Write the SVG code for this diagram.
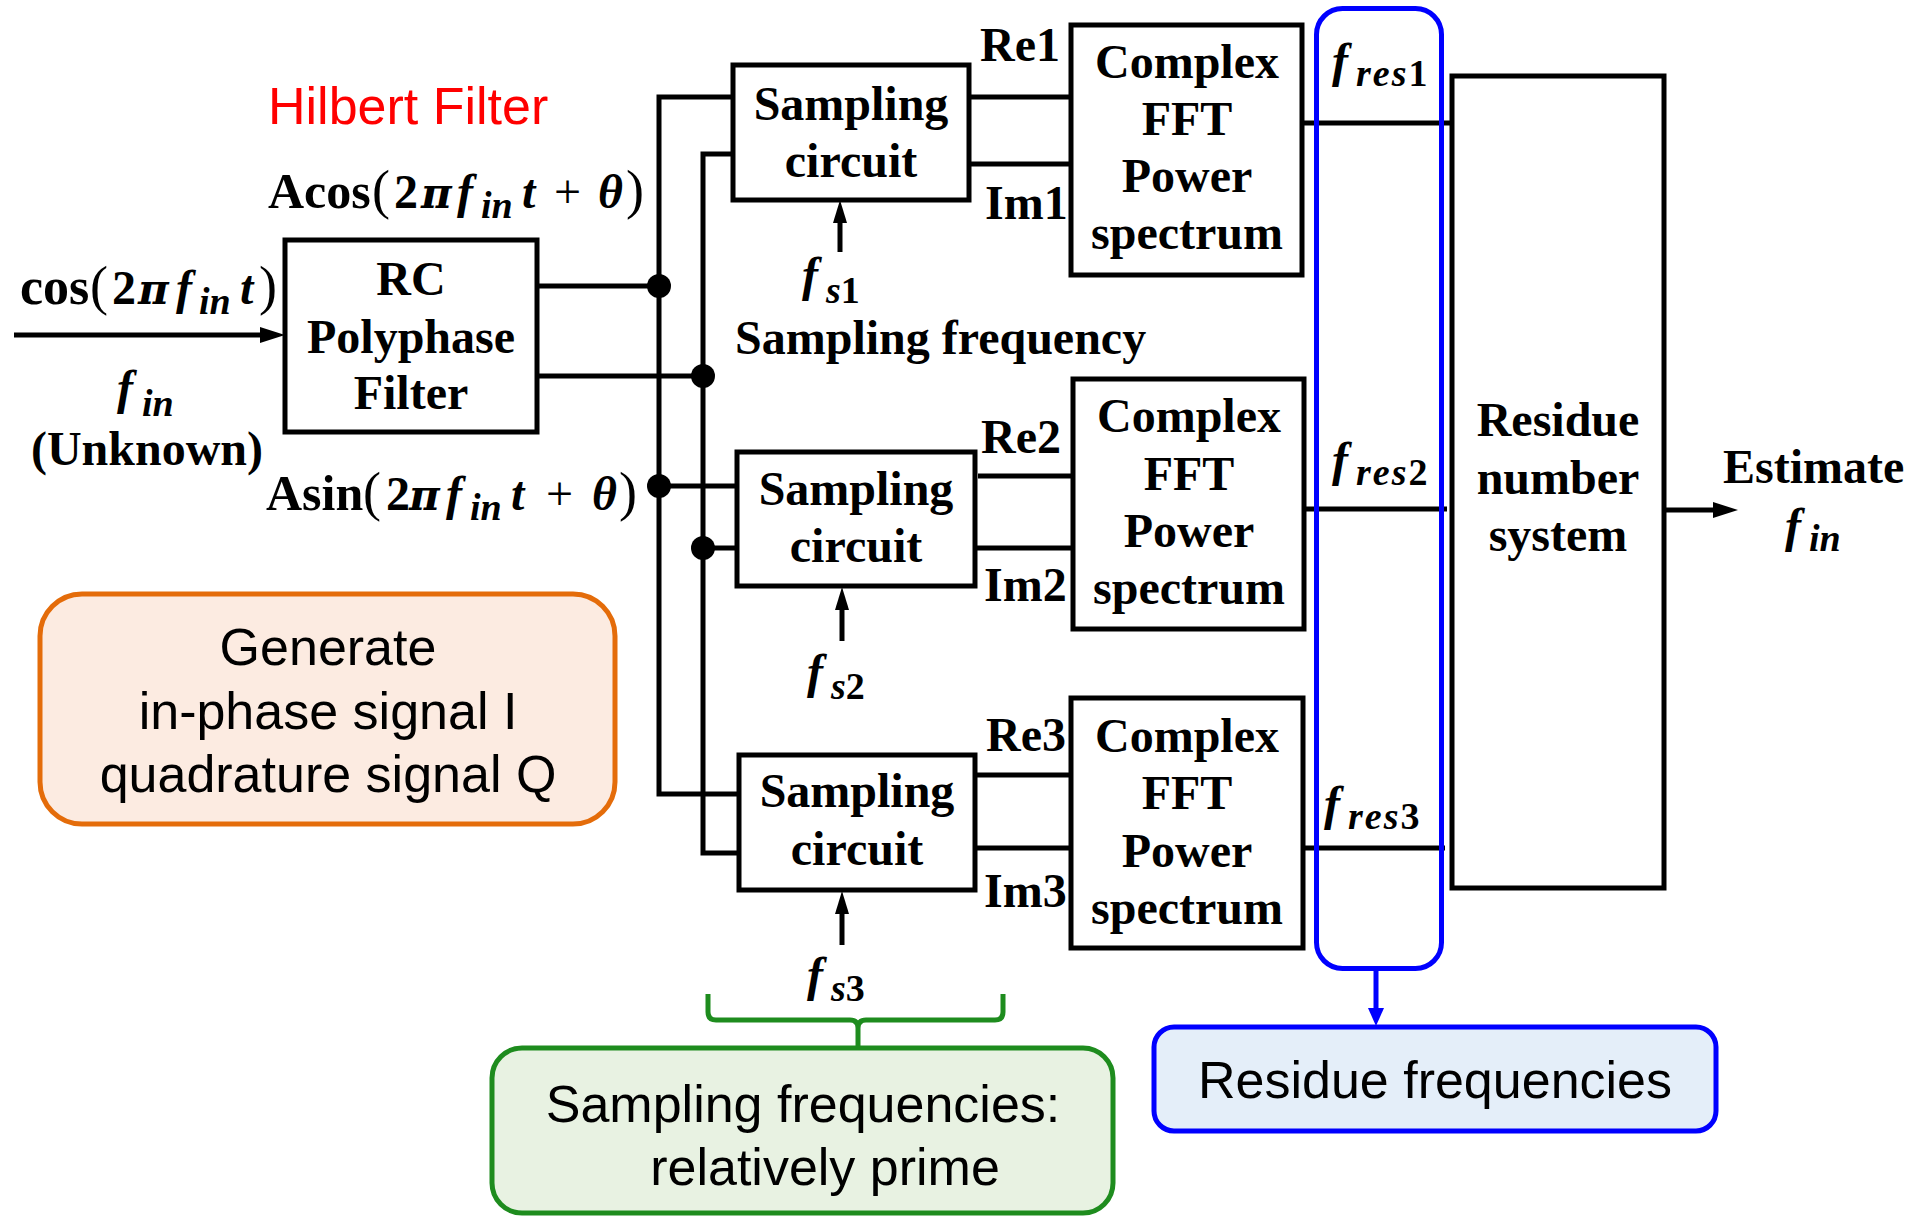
<svg xmlns="http://www.w3.org/2000/svg" width="1913" height="1216" viewBox="0 0 1913 1216">
<style>
.tb{font-family:"Liberation Serif","Times New Roman",serif;font-weight:bold;font-size:48px;fill:#000}
.c{text-anchor:middle}
.mi{font-style:italic}
.sub{font-size:38px}
.pl{font-weight:normal}
.par{font-weight:normal;font-size:54px}
.gr{font-family:"DejaVu Serif",serif;font-style:italic;font-weight:bold;font-size:42px}
.sans{font-family:"Liberation Sans",Arial,sans-serif;font-size:52px;fill:#000}
.box{fill:#fff;stroke:#000;stroke-width:5}
.wire{stroke:#000;stroke-width:5;fill:none}
.dot{fill:#000}
</style>
<defs>
<marker id="ah" markerUnits="userSpaceOnUse" markerWidth="26" markerHeight="18" refX="12" refY="8" orient="auto">
<path d="M0,0 L25,8 L0,16 z" fill="#000"/>
</marker>
<marker id="ahs" markerUnits="userSpaceOnUse" markerWidth="26" markerHeight="16" refX="11" refY="7" orient="auto">
<path d="M0,0 L23,7 L0,14 z" fill="#000"/>
</marker>
<marker id="ahb" markerUnits="userSpaceOnUse" markerWidth="20" markerHeight="18" refX="8" refY="8" orient="auto">
<path d="M0,0 L18,8 L0,16 z" fill="#0000ff"/>
</marker>
</defs>

<g id="connectors">
<line class="wire" x1="14" y1="335" x2="272" y2="335" marker-end="url(#ah)"/>
<line class="wire" x1="537" y1="286" x2="659" y2="286"/>
<line class="wire" x1="537" y1="376" x2="703" y2="376"/>
<polyline class="wire" points="735,97 659,97 659,794 737,794"/>
<polyline class="wire" points="735,154 703,154 703,853 737,853"/>
<line class="wire" x1="659" y1="486" x2="737" y2="486"/>
<line class="wire" x1="703" y1="548" x2="737" y2="548"/>
<circle class="dot" cx="659" cy="286" r="12"/>
<circle class="dot" cx="703" cy="376" r="12"/>
<circle class="dot" cx="659" cy="486" r="12"/>
<circle class="dot" cx="703" cy="548" r="12"/>
<line class="wire" x1="969" y1="97" x2="1069" y2="97"/>
<line class="wire" x1="969" y1="164" x2="1069" y2="164"/>
<line class="wire" x1="978" y1="476" x2="1072" y2="476"/>
<line class="wire" x1="975" y1="548" x2="1072" y2="548"/>
<line class="wire" x1="977" y1="775" x2="1070" y2="775"/>
<line class="wire" x1="975" y1="848" x2="1070" y2="848"/>
<line class="wire" x1="1302" y1="123" x2="1452" y2="123"/>
<line class="wire" x1="1304" y1="509" x2="1447" y2="509"/>
<line class="wire" x1="1303" y1="848" x2="1445" y2="848"/>
<line class="wire" x1="840" y1="252" x2="840" y2="212" marker-end="url(#ahs)"/>
<line class="wire" x1="842" y1="641" x2="842" y2="599" marker-end="url(#ahs)"/>
<line class="wire" x1="842" y1="945" x2="842" y2="903" marker-end="url(#ahs)"/>
<line class="wire" x1="1664" y1="510" x2="1725" y2="510" marker-end="url(#ah)"/>
<line x1="1376" y1="969" x2="1376" y2="1016" stroke="#0000ff" stroke-width="5" marker-end="url(#ahb)"/>
<path d="M708,994 L708,1012 Q708,1020 716,1020 L850,1020 Q858,1020 858,1028 L858,1047 M1003,994 L1003,1012 Q1003,1020 995,1020 L866,1020 Q858,1020 858,1028" fill="none" stroke="#1e8c1e" stroke-width="5"/>
</g>

<g id="hilbert-label">
<text class="sans" x="268" y="124" style="fill:#ff0000">Hilbert Filter</text>
</g>

<g id="input-labels">
<text class="tb" y="304"><tspan x="20" font-size="52">cos</tspan><tspan x="90" class="par">(</tspan><tspan x="112">2</tspan><tspan x="138" class="gr">π</tspan><tspan x="176" class="mi">f</tspan><tspan x="199" y="314" class="mi sub">in</tspan><tspan x="240" y="304" class="mi">t</tspan><tspan x="259" class="par">)</tspan></text>
<text class="tb"><tspan x="117" y="404" class="mi">f</tspan><tspan x="142" y="416" class="mi sub">in</tspan></text>
<text class="tb c" x="147" y="465">(Unknown)</text>
<text class="tb" y="208"><tspan x="268" font-size="50">Acos</tspan><tspan x="372" class="par">(</tspan><tspan x="394">2</tspan><tspan x="421" class="gr">π</tspan><tspan x="457" class="mi">f</tspan><tspan x="481" y="218" class="mi sub">in</tspan><tspan x="522" y="208" class="mi">t</tspan><tspan x="554" class="pl">+</tspan><tspan x="598" class="mi">θ</tspan><tspan x="626" class="par">)</tspan></text>
<text class="tb" y="510"><tspan x="266" font-size="50">Asin</tspan><tspan x="363" class="par">(</tspan><tspan x="386">2</tspan><tspan x="409" class="gr">π</tspan><tspan x="446" class="mi">f</tspan><tspan x="470" y="520" class="mi sub">in</tspan><tspan x="511" y="510" class="mi">t</tspan><tspan x="546" class="pl">+</tspan><tspan x="592" class="mi">θ</tspan><tspan x="619" class="par">)</tspan></text>
</g>

<g id="rc-filter">
<rect class="box" x="285" y="240" width="252" height="192"/>
<text class="tb c"><tspan x="411" y="295">RC</tspan><tspan x="411" y="353">Polyphase</tspan><tspan x="411" y="409">Filter</tspan></text>
</g>

<g id="sampling1">
<rect class="box" x="733" y="65" width="236" height="135"/>
<text class="tb c"><tspan x="851" y="120">Sampling</tspan><tspan x="851" y="177">circuit</tspan></text>
</g>
<g id="sampling2">
<rect class="box" x="737" y="452" width="238" height="134"/>
<text class="tb c"><tspan x="856" y="505">Sampling</tspan><tspan x="856" y="562">circuit</tspan></text>
</g>
<g id="sampling3">
<rect class="box" x="739" y="755" width="236" height="135"/>
<text class="tb c"><tspan x="857" y="807">Sampling</tspan><tspan x="857" y="865">circuit</tspan></text>
</g>

<g id="fs-labels">
<text class="tb"><tspan x="802" y="291" class="mi">f</tspan><tspan x="826" y="303" class="mi sub">s</tspan><tspan class="sub">1</tspan></text>
<text class="tb" x="735" y="354">Sampling frequency</text>
<text class="tb"><tspan x="807" y="688" class="mi">f</tspan><tspan x="831" y="699" class="mi sub">s</tspan><tspan class="sub">2</tspan></text>
<text class="tb"><tspan x="807" y="991" class="mi">f</tspan><tspan x="831" y="1001" class="mi sub">s</tspan><tspan class="sub">3</tspan></text>
</g>

<g id="reim-labels">
<text class="tb" x="980" y="61">Re1</text>
<text class="tb" x="985" y="219">Im1</text>
<text class="tb" x="981" y="453">Re2</text>
<text class="tb" x="984" y="601">Im2</text>
<text class="tb" x="986" y="751">Re3</text>
<text class="tb" x="984" y="907">Im3</text>
</g>

<g id="fft1">
<rect class="box" x="1071" y="25" width="231" height="250"/>
<text class="tb c"><tspan x="1187" y="78">Complex</tspan><tspan x="1187" y="135">FFT</tspan><tspan x="1187" y="192">Power</tspan><tspan x="1187" y="249">spectrum</tspan></text>
</g>
<g id="fft2">
<rect class="box" x="1073" y="379" width="231" height="250"/>
<text class="tb c"><tspan x="1189" y="432">Complex</tspan><tspan x="1189" y="490">FFT</tspan><tspan x="1189" y="547">Power</tspan><tspan x="1189" y="604">spectrum</tspan></text>
</g>
<g id="fft3">
<rect class="box" x="1071" y="698" width="232" height="250"/>
<text class="tb c"><tspan x="1187" y="752">Complex</tspan><tspan x="1187" y="809">FFT</tspan><tspan x="1187" y="867">Power</tspan><tspan x="1187" y="924">spectrum</tspan></text>
</g>

<g id="fres-labels">
<text class="tb"><tspan x="1332" y="77" class="mi">f</tspan><tspan x="1356" y="86" class="mi sub" letter-spacing="2">res</tspan><tspan class="sub">1</tspan></text>
<text class="tb"><tspan x="1332" y="476" class="mi">f</tspan><tspan x="1356" y="485" class="mi sub" letter-spacing="2">res</tspan><tspan class="sub">2</tspan></text>
<text class="tb"><tspan x="1324" y="820" class="mi">f</tspan><tspan x="1348" y="829" class="mi sub" letter-spacing="2">res</tspan><tspan class="sub">3</tspan></text>
</g>

<g id="rns">
<rect class="box" x="1452" y="76" width="212" height="812"/>
<text class="tb c"><tspan x="1558" y="436">Residue</tspan><tspan x="1558" y="494">number</tspan><tspan x="1558" y="551">system</tspan></text>
</g>

<g id="estimate">
<text class="tb" x="1723" y="483">Estimate</text>
<text class="tb"><tspan x="1785" y="542" class="mi">f</tspan><tspan x="1809" y="551" class="mi sub">in</tspan></text>
</g>

<g id="residue-group">
<rect x="1316.5" y="8.5" width="125" height="960" rx="26" fill="none" stroke="#0000ff" stroke-width="5"/>
</g>

<g id="generate-note">
<rect x="40" y="594" width="575" height="230" rx="42" fill="#fcebe1" stroke="#e46c0a" stroke-width="5"/>
<text class="sans c"><tspan x="328" y="665">Generate</tspan><tspan x="328" y="729">in-phase signal I</tspan><tspan x="328" y="792">quadrature signal Q</tspan></text>
</g>

<g id="sampling-note">
<rect x="492" y="1048" width="621" height="165" rx="30" fill="#e8f2e2" stroke="#1e8c1e" stroke-width="5"/>
<text class="sans c"><tspan x="803" y="1122">Sampling frequencies:</tspan><tspan x="825" y="1185">relatively prime</tspan></text>
</g>

<g id="residue-note">
<rect x="1154" y="1027" width="562" height="104" rx="20" fill="#e4eef9" stroke="#0000ff" stroke-width="5"/>
<text class="sans c" x="1435" y="1098">Residue frequencies</text>
</g>
</svg>
